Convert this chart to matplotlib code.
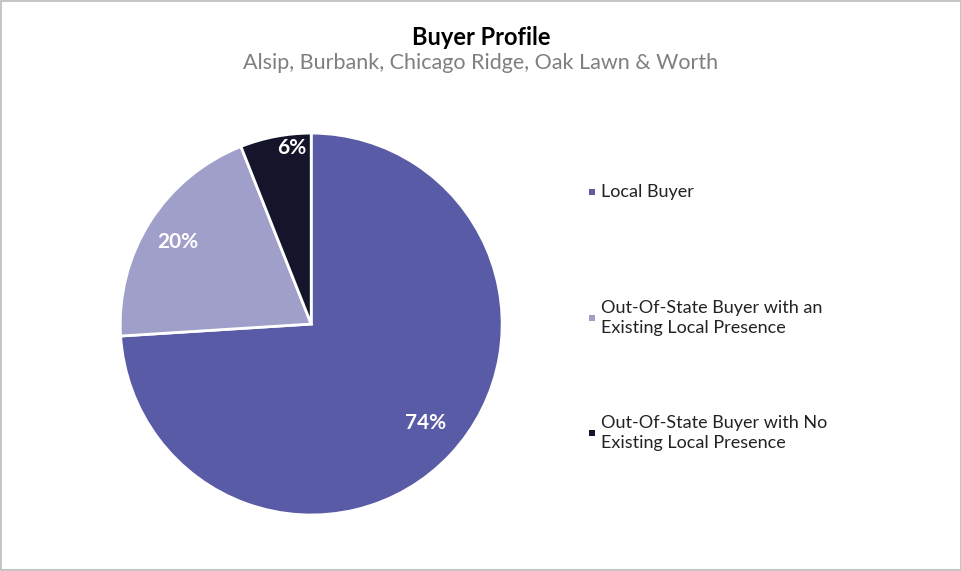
import matplotlib
matplotlib.use("Agg")
import matplotlib.pyplot as plt
from matplotlib.patches import Rectangle

labels = ["Local Buyer", "Out-Of-State Buyer with an\nExisting Local Presence", "Out-Of-State Buyer with No\nExisting Local Presence"]
values = [74, 20, 6]
colors = ["#5A5BA6", "#A09FC9", "#14142A"]

fig = plt.figure(figsize=(9.62, 5.71), dpi=100)
fig.patches.append(Rectangle((0.001, 0.001), 0.998, 0.997, transform=fig.transFigure,
                             fill=False, edgecolor="#BBBBBB", lw=1.2))
fig.text(0.5, 0.935, "Buyer Profile", ha="center", va="center", fontsize=17, fontweight="bold", family="Lato")
fig.text(0.5, 0.89, "Alsip, Burbank, Chicago Ridge, Oak Lawn & Worth", ha="center", va="center",
         fontsize=15.5, color="#7F7F7F", family="Lato")

ax = fig.add_axes([0.125, 0.098, 0.397, 0.669])
wedges, _ = ax.pie(values, colors=colors, startangle=90, counterclock=False,
                   wedgeprops=dict(edgecolor="white", linewidth=2))
ax.set_aspect("equal")
ax.set_xlim(-1, 1); ax.set_ylim(-1, 1)
import numpy as np
pos = [(0.6, -0.52), (-0.7, 0.43), (-0.1, 0.92)]
for v, (x, y) in zip(values, pos):
    ax.text(x, y, f"{v}%", ha="center", va="center", color="white", fontsize=15, fontweight="bold", family="Lato")

ys = [192, 318, 433]
for lab, c, y in zip(labels, colors, ys):
    yf = 1 - y / 571
    fig.patches.append(Rectangle((0.612, yf - 0.006), 0.006, 0.011, transform=fig.transFigure,
                                 facecolor=c, edgecolor="none"))
    fig.text(0.625, yf, lab, ha="left", va="center", fontsize=13, family="Lato",
             color="#222222", linespacing=1.25)

fig.savefig("out.png", dpi=100)
